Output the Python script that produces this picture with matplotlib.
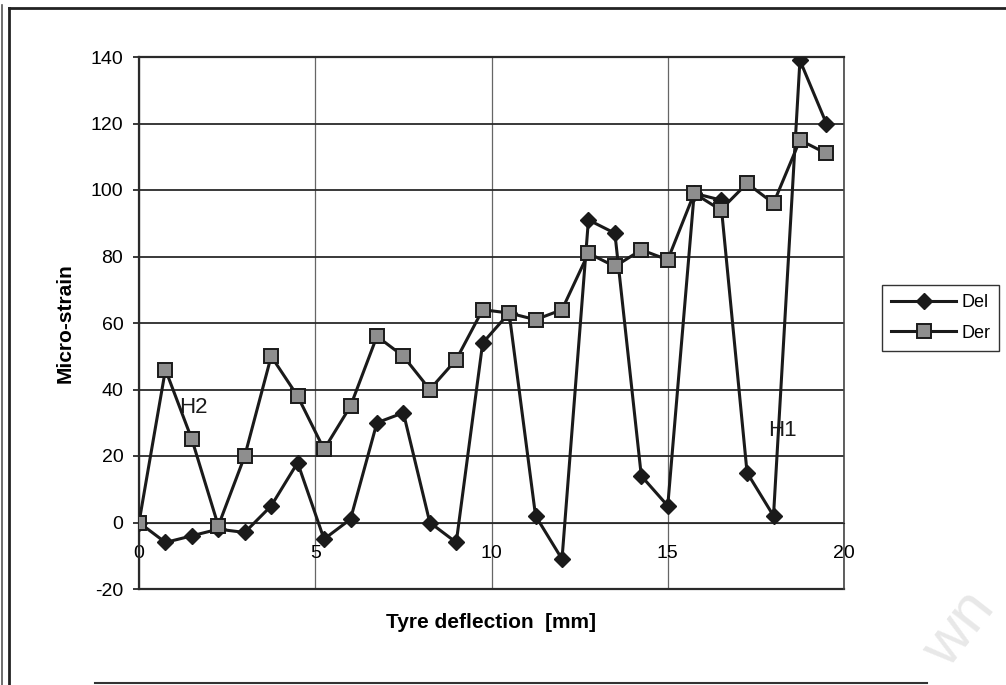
import numpy as np
import matplotlib
matplotlib.use('Agg')
import matplotlib.pyplot as plt
from matplotlib.lines import Line2D

plt.rcParams['font.family'] = ['Liberation Sans', 'DejaVu Sans']
plt.rcParams['axes.unicode_minus'] = False

# Data
deflection = [0, 0.75, 1.5, 2.25, 3, 3.75, 4.5, 5.25, 6, 6.75, 7.5, 8.25, 9, 9.75,
              10.5, 11.25, 12, 12.75, 13.5, 14.25, 15, 15.75, 16.5, 17.25, 18, 18.75, 19.5]
del_strain = [0, -6, -4, -2, -3, 5, 18, -5, 1, 30, 33, 0, -6, 54,
              63, 2, -11, 91, 87, 14, 5, 99, 97, 15, 2, 139, 120]
der_strain = [0, 46, 25, -1, 20, 50, 38, 22, 35, 56, 50, 40, 49, 64,
              63, 61, 64, 81, 77, 82, 79, 99, 94, 102, 96, 115, 111]
x_ticks = [0, 5, 10, 15, 20]
y_ticks = [-20, 0, 20, 40, 60, 80, 100, 120, 140]
notes = [('H2', 1.15, 33), ('H1', 17.85, 26)]

W, H = 1006, 685
fig = plt.figure(figsize=(W / 100, H / 100), dpi=100)
ax = fig.add_axes([139 / W, 1 - 589 / H, 705 / W, 532 / H])

# plot lines
ax.plot(deflection, del_strain, color='#1a1a1a', lw=2.2, marker='D', ms=8,
        mfc='#1a1a1a', mec='#1a1a1a', label='Del', zorder=3)
ax.plot(deflection, der_strain, color='#1a1a1a', lw=2.2, marker='s', ms=9.5,
        mfc='#8e8e8e', mec='#1a1a1a', mew=1.4, label='Der', zorder=4)

for txt, xx, yy in notes:
    ax.text(xx, yy, txt, fontsize=16, ha='left', va='baseline', color='#1a1a1a')

ax.set_xlim(0, 20)
ax.set_ylim(-20, 140)
ax.set_xticks(x_ticks)
ax.set_yticks(y_ticks)

# gridlines: dark horizontal, lighter vertical
ax.yaxis.grid(True, color='#2a2a2a', lw=1.3)
ax.xaxis.grid(True, color='#666666', lw=0.9)
ax.set_axisbelow(True)

# x axis crosses at 0, like Excel
ax.spines['bottom'].set_position(('data', 0))
ax.spines['bottom'].set_color('#2a2a2a')
ax.axhline(-20, color='#2a2a2a', lw=1.6, clip_on=False, zorder=1)
for s in ['left', 'top']:
    ax.spines[s].set_color('#2a2a2a')
    ax.spines[s].set_linewidth(1.6)
ax.spines['right'].set_color('#444444')
ax.spines['right'].set_linewidth(1.2)

ax.tick_params(axis='x', length=0, pad=16, labelsize=14)
ax.tick_params(axis='y', length=4.3, width=1.3, pad=7, labelsize=14, color='#2a2a2a')

ax.set_xlabel('Tyre deflection  [mm]', fontsize=15, fontweight='bold')
ax.set_ylabel('Micro-strain', fontsize=15, fontweight='bold')
ax.xaxis.set_label_coords(0.5, -0.045)
ax.yaxis.set_label_coords(-0.092, 0.5)

leg = ax.legend(loc='upper left', bbox_to_anchor=(882 / W, 1 - 285 / H),
                bbox_transform=fig.transFigure, borderaxespad=0, fontsize=13,
                fancybox=False, framealpha=1, edgecolor='#333333',
                handlelength=3.6, labelspacing=0.75, handletextpad=0.3,
                borderpad=0.5)
leg.get_frame().set_linewidth(1.0)

# outer frame of the scanned figure
fig.add_artist(Line2D([2 / W, 2 / W], [0, 1 - 5 / H], color='#555555', lw=1.2))
fig.add_artist(Line2D([9 / W, 9 / W], [0, 1 - 8 / H], color='#222222', lw=2.0))
fig.add_artist(Line2D([9 / W, 1], [1 - 8 / H, 1 - 8 / H], color='#222222', lw=2.0))
fig.add_artist(Line2D([95 / W, 927 / W], [1 - 683 / H, 1 - 683 / H], color='#333333', lw=1.5))

# faint watermark fragment in the corner
fig.text(960 / W, 1 - 630 / H, 'wn', fontsize=44, rotation=52, color='#e8e8e8',
         ha='center', va='center')

fig.savefig('out.png', dpi=100)
